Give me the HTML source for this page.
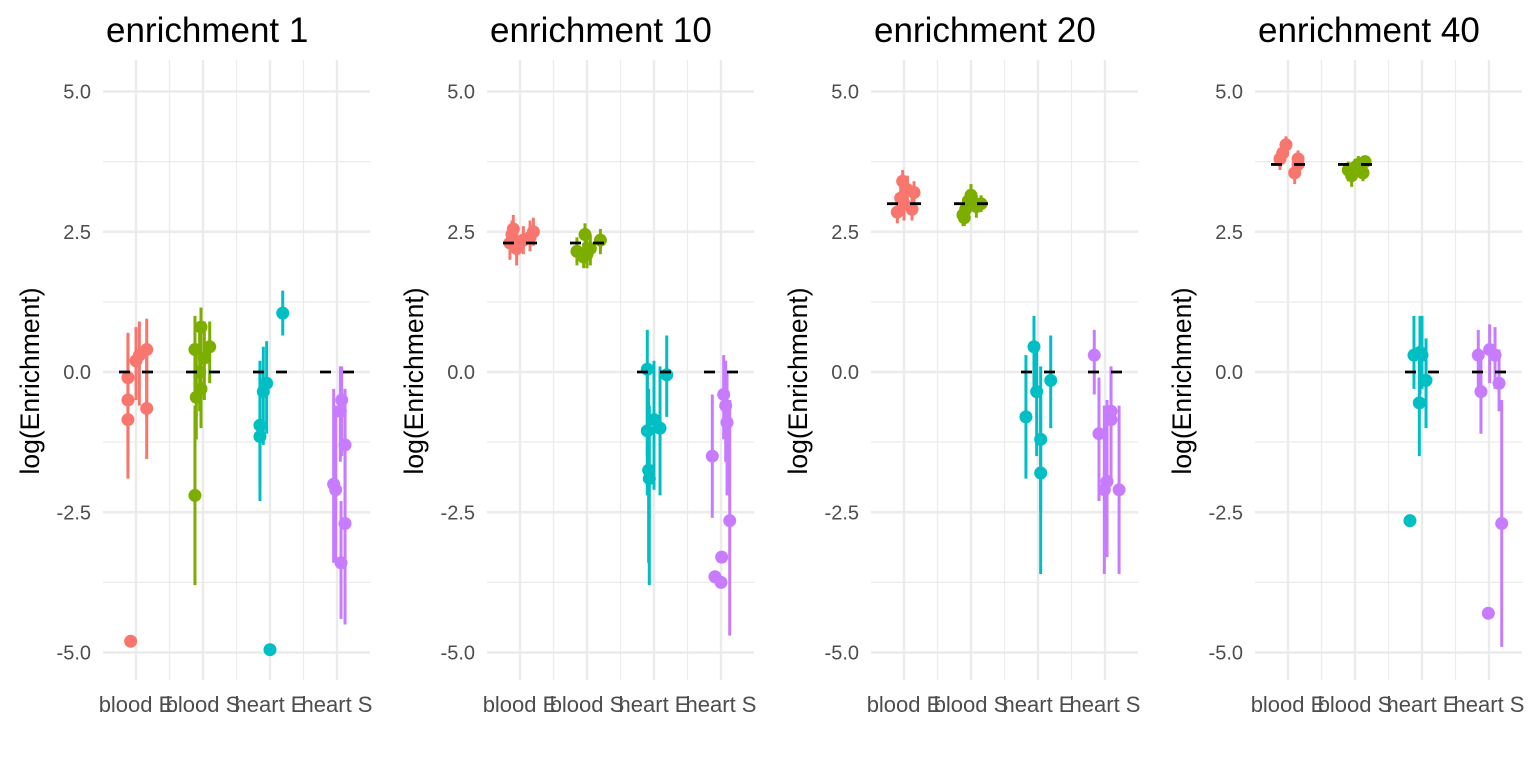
<!DOCTYPE html>
<html><head><meta charset="utf-8"><style>
body{margin:0;background:#fff}
svg text{font-family:"Liberation Sans",sans-serif}
</style></head><body>
<svg id="chart" width="1536" height="768" xmlns="http://www.w3.org/2000/svg"></svg>
<script>
const facetTitles = ["enrichment 1","enrichment 10","enrichment 20","enrichment 40"];
const categories = ["blood E","blood S","heart E","heart S"];
const yTicks = [5.0,2.5,0.0,-2.5,-5.0];
const yTickLabels = ["5.0","2.5","0.0","-2.5","-5.0"];
const refLines = [[0,0,0,0],[2.3,2.3,0,0],[3.0,3.0,0,0],[3.7,3.7,0,0]];
// each point: [jitter (category units), estimate, lower, upper]
const facet1 = [
 [[-0.12,-0.1,-1.3,0.6],[-0.12,-0.5,-1.9,0.7],[-0.12,-0.85,-1.6,0.2],[0.0,0.2,-0.5,0.8],[0.05,0.3,-0.6,0.9],[0.16,0.4,-0.8,0.95],[0.16,-0.65,-1.55,0.4],[-0.08,-4.8,null,null]],
 [[-0.12,0.4,-0.5,1.0],[-0.05,0.0,-0.7,0.8],[-0.1,-0.45,-1.2,0.4],[-0.12,-2.2,-3.8,-0.6],[-0.03,0.8,0.0,1.15],[0.02,0.25,-0.5,0.9],[0.1,0.45,-0.2,0.9],[-0.03,-0.3,-1.0,0.5]],
 [[-0.15,-1.15,-2.3,0.0],[-0.15,-0.95,-2.0,0.2],[-0.1,-0.35,-1.3,0.45],[-0.05,-0.2,-1.1,0.55],[0.19,1.05,0.65,1.45],[0.0,-4.95,null,null]],
 [[-0.05,-2.0,-3.4,-0.3],[-0.02,-2.1,-3.4,-0.6],[0.05,-0.7,-1.6,0.1],[0.07,-0.5,-1.5,0.1],[0.12,-1.3,-2.4,-0.3],[0.12,-2.7,-4.5,-1.1],[0.06,-3.4,-4.4,-2.3]]
];
const facet2 = [
 [[-0.15,2.3,2.0,2.6],[-0.1,2.55,2.2,2.8],[-0.05,2.2,1.9,2.5],[0.05,2.35,2.1,2.6],[0.15,2.4,2.15,2.7],[0.2,2.5,2.25,2.75],[-0.12,2.45,2.15,2.7]],
 [[-0.15,2.15,1.9,2.4],[-0.05,2.05,1.85,2.3],[-0.03,2.45,2.2,2.65],[0.05,2.2,1.9,2.45],[0.2,2.35,2.1,2.55],[0.0,2.1,1.85,2.35]],
 [[-0.1,0.05,-1.5,0.75],[-0.1,-1.05,-2.2,0.0],[-0.08,-1.75,-3.4,-0.3],[-0.07,-1.9,-3.8,-0.6],[0.0,-0.85,-2.1,0.2],[0.09,-1.0,-2.2,0.1],[0.19,-0.05,-0.8,0.65]],
 [[-0.13,-1.5,-2.6,-0.4],[0.04,-0.4,-1.2,0.3],[0.07,-0.6,-1.6,0.2],[0.09,-0.9,-2.2,0.0],[0.13,-2.65,-4.7,-0.5],[0.01,-3.3,null,null],[-0.09,-3.65,null,null],[0.0,-3.75,null,null]]
];
const facet3 = [
 [[-0.1,2.85,2.65,3.1],[-0.05,3.1,2.8,3.4],[-0.02,3.4,3.1,3.6],[0.05,3.25,3.0,3.5],[0.12,2.9,2.7,3.1],[0.15,3.2,3.0,3.4],[0.0,3.0,2.7,3.3]],
 [[-0.12,2.8,2.6,3.0],[-0.08,2.9,2.65,3.1],[-0.04,3.05,2.8,3.25],[0.0,3.15,2.95,3.35],[0.08,2.95,2.75,3.15],[0.15,3.0,2.85,3.15],[-0.1,2.75,2.6,2.95]],
 [[-0.18,-0.8,-1.9,0.3],[-0.06,0.45,-0.4,1.0],[-0.02,-0.35,-1.5,0.4],[0.04,-1.2,-2.5,0.1],[0.04,-1.8,-3.6,-0.4],[0.19,-0.15,-1.0,0.65]],
 [[-0.16,0.3,-0.4,0.75],[-0.09,-1.1,-2.3,-0.1],[-0.01,-2.1,-3.6,-0.6],[0.03,-1.95,-3.3,-0.5],[0.09,-0.7,-1.8,0.1],[0.09,-0.85,-2.0,0.0],[0.21,-2.1,-3.6,-0.6]]
];
const facet4 = [
 [[-0.12,3.8,3.6,4.0],[-0.08,3.9,3.7,4.1],[-0.03,4.05,3.85,4.2],[0.1,3.55,3.35,3.75],[0.15,3.7,3.5,3.9],[0.15,3.8,3.6,3.95]],
 [[-0.1,3.6,3.4,3.75],[-0.05,3.5,3.3,3.7],[0.0,3.65,3.45,3.8],[0.05,3.7,3.55,3.85],[0.12,3.55,3.4,3.7],[0.15,3.75,3.6,3.85]],
 [[-0.12,0.3,-0.3,1.0],[-0.03,0.35,-0.4,1.0],[-0.04,-0.55,-1.5,0.3],[0.06,-0.15,-1.0,0.6],[0.0,0.3,-0.3,1.0],[-0.18,-2.65,null,null]],
 [[-0.16,0.3,-0.3,0.75],[-0.12,-0.35,-1.1,0.3],[0.01,0.4,-0.2,0.85],[0.09,0.3,-0.3,0.8],[0.15,-0.2,-0.7,0.4],[0.19,-2.7,-4.9,-0.5],[-0.01,-4.3,null,null]]
];
const facets = [facet1,facet2,facet3,facet4];
const colors = ["#F8766D","#7CAE00","#00BFC4","#C77CFF"];

const svg = document.getElementById('chart');
const NS = "http://www.w3.org/2000/svg";
function mk(tag, attrs, parent){const e=document.createElementNS(NS,tag);for(const k in attrs)e.setAttribute(k,attrs[k]);(parent||svg).appendChild(e);return e;}
const panelW = 384, plotLeft0 = 103, plotRight0 = 370, plotTop = 60, plotBottom = 680;
const yScale = v => 372 - v*56.1;
const xScale = (f, c) => 136 + f*panelW + c*67;

facets.forEach((facet, fi) => {
  const g = mk('g', {});
  
  
  const L = plotLeft0 + fi*panelW, R = plotRight0 + fi*panelW;
  for (let i=0;i<yTicks.length-1;i++){
    const y = yScale((yTicks[i]+yTicks[i+1])/2);
    mk('line',{x1:L,x2:R,y1:y,y2:y,stroke:'#ebebeb','stroke-width':1.2},g);
  }
  for (let c=0;c<categories.length-1;c++){
    const x = (xScale(fi,c)+xScale(fi,c+1))/2;
    mk('line',{x1:x,x2:x,y1:plotTop,y2:plotBottom,stroke:'#ebebeb','stroke-width':1.2},g);
  }
  yTicks.forEach((t,i) => {
    const y = yScale(t);
    mk('line',{x1:L,x2:R,y1:y,y2:y,stroke:'#ebebeb','stroke-width':2.4},g);
    const tx = mk('text',{x:L-12,y:y+7,'text-anchor':'end','font-size':20,fill:'#4d4d4d'},g);
    tx.textContent = yTickLabels[i];
    
    
  });
  categories.forEach((c,ci) => {
    const x = xScale(fi,ci);
    mk('line',{x1:x,x2:x,y1:plotTop,y2:plotBottom,stroke:'#ebebeb','stroke-width':2.4},g);
    const tx = mk('text',{x:x,y:712,'text-anchor':'middle','font-size':22,fill:'#4d4d4d'},g);
    tx.textContent = c;
    
    
  });
  const title = mk('text',{x:L+3,y:42,'font-size':35,fill:'#000'},g);
  title.textContent = facetTitles[fi];
  
  
  const yt = mk('text',{x:0,y:0,'font-size':26.5,fill:'#000','text-anchor':'middle',transform:`translate(${L-64},381) rotate(-90)`},g);
  yt.textContent = 'log(Enrichment)';
  
  
  facet.forEach((grp, ci) => {
    grp.forEach(p => {
      const x = xScale(fi, ci + p[0]);
      if (p[2] !== null) {
        const eb = mk('line',{x1:x,x2:x,y1:yScale(p[2]),y2:yScale(p[3]),stroke:colors[ci],'stroke-width':3},g);
        
        
      }
    });
    grp.forEach(p => {
      const x = xScale(fi, ci + p[0]);
      const pt = mk('circle',{cx:x,cy:yScale(p[1]),r:6.5,fill:colors[ci]},g);
      
      
    });
    const cx = xScale(fi,ci), ry = yScale(refLines[fi][ci]);
    const rl = mk('line',{x1:cx-17,x2:cx+17,y1:ry,y2:ry,stroke:'#000','stroke-width':2.8,'stroke-dasharray':'11 12'},g);
    
    
  });
});
</script>
</body></html>
